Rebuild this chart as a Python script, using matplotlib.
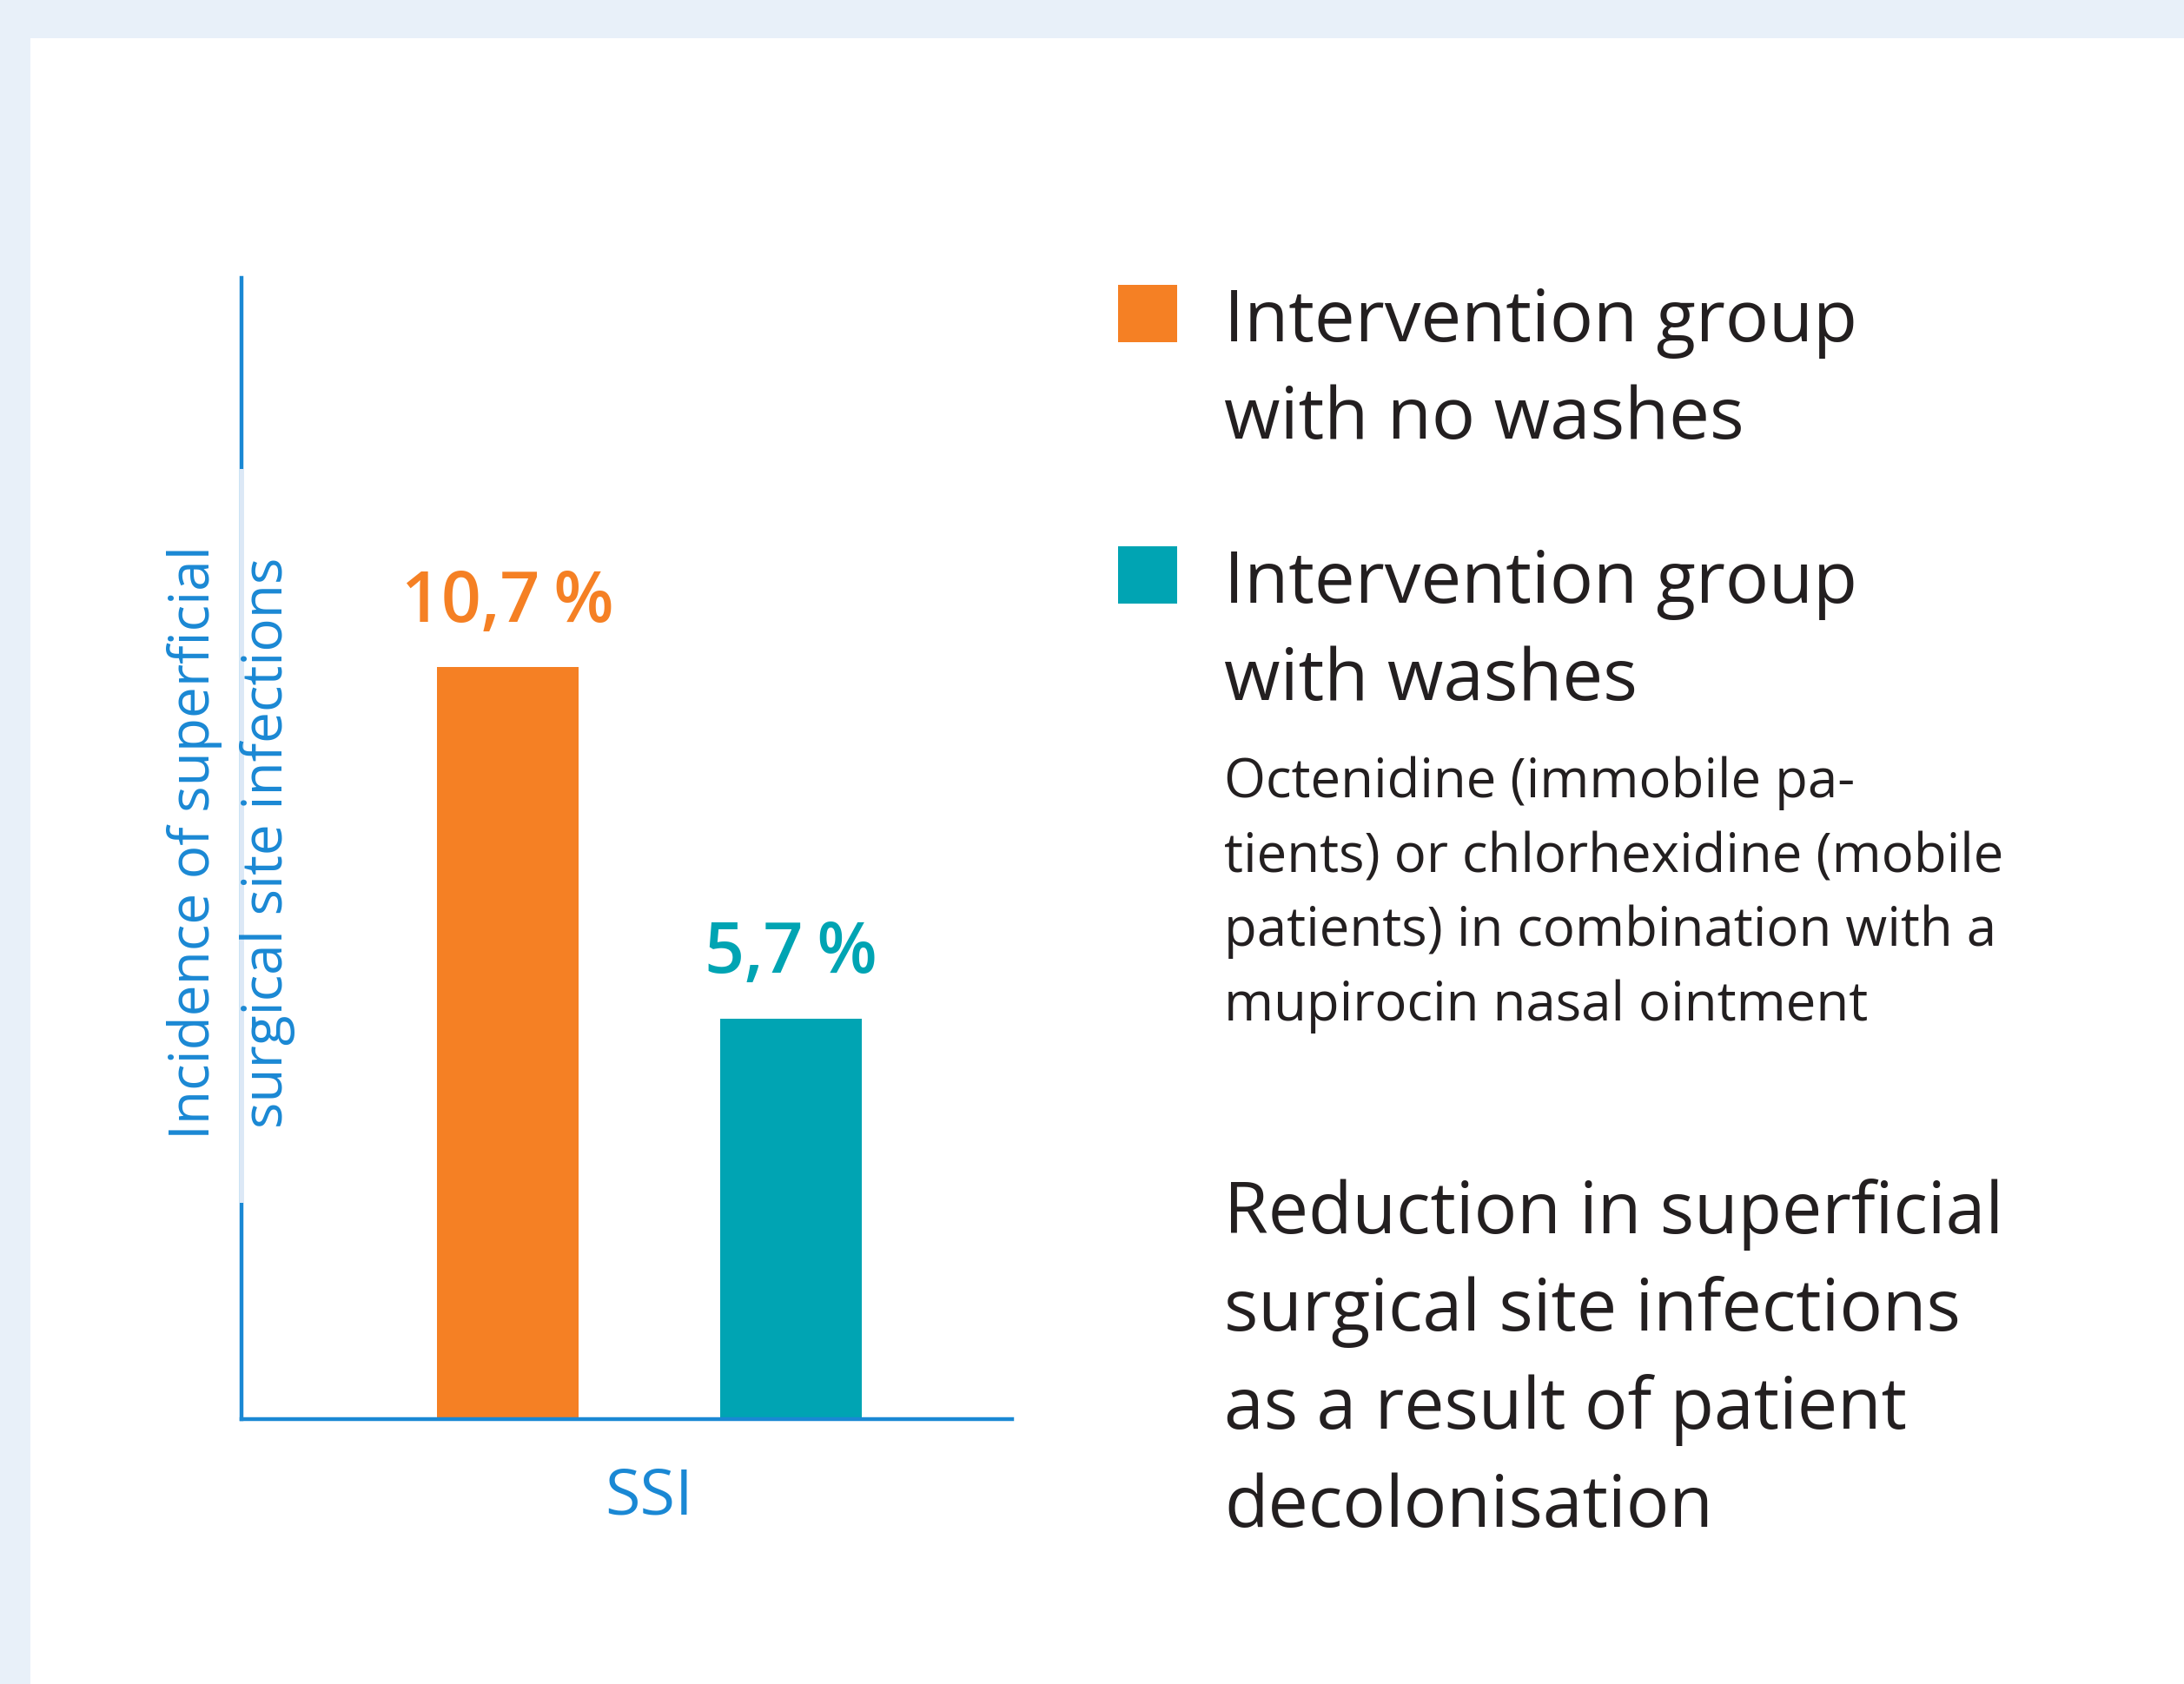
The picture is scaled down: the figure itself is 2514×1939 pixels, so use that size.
import matplotlib.pyplot as plt
from matplotlib.patches import Rectangle

plt.rcParams['font.family'] = ['Open Sans', 'DejaVu Sans']

# data
groups = ['Intervention group\nwith no washes', 'Intervention group\nwith washes']
values = [10.7, 5.7]
value_labels = ['10,7\u2009%', '5,7\u2009%']
category = 'SSI'
ylabel_lines = ['Incidence of superficial', 'surgical site infections']
note_lines = ['Octenidine (immobile pa-', 'tients) or chlorhexidine (mobile',
              'patients) in combination with a', 'mupirocin nasal ointment']
summary_lines = ['Reduction in superficial', 'surgical site infections',
                 'as a result of patient', 'decolonisation']

colors = ['#F58024', '#00A4B3']
blue = '#1A88D4'
pale = '#DCE8F6'
dark = '#231F20'

W, H = 2514, 1940
fig = plt.figure(figsize=(W / 100, H / 100), dpi=100, facecolor='#E8F0F9')

def fx(px):
    return px / W

def fy(py):
    return 1 - py / H

# white panel
fig.patches.append(Rectangle((fx(35), 0), 1, fy(45), transform=fig.transFigure,
                             facecolor='white', edgecolor='none', zorder=-5))

ax = fig.add_axes([fx(278), fy(1635), fx(1165) - fx(278), fy(321) - fy(1635)])
ax.set_zorder(2)
ax.set_facecolor('none')
x = [0, 1]
bars = ax.bar(x, values, width=0.5, color=colors, zorder=2)
ax.set_xlim(-0.939, 1.782)
ax.set_ylim(0, 16.24)

for s in ['top', 'right']:
    ax.spines[s].set_visible(False)
for s in ['left', 'bottom']:
    ax.spines[s].set_color(blue)
    ax.spines[s].set_linewidth(3.2)
# pale stretch of the y axis behind the label
ax.axvline(ax.get_xlim()[0], ymin=0.192, ymax=0.831, color=pale, lw=3.6, zorder=3,
           clip_on=False)

ax.set_yticks([])
ax.set_xticks([0.5])
ax.set_xticklabels([category], color=blue, fontsize=53)
ax.tick_params(axis='x', length=0, pad=38)

for b, lab, c in zip(bars, value_labels, colors):
    ax.annotate(lab, (b.get_x() + b.get_width() / 2, b.get_height()),
                xytext=(0, 24), textcoords='offset points', ha='center', va='bottom',
                color=c, fontsize=58, fontweight='semibold')

for xa, line in zip([-0.0609, 0.0338], ylabel_lines):
    ax.text(xa, 0.506, line, transform=ax.transAxes, rotation=90, ha='center',
            va='center', color=blue, fontsize=46, zorder=4)

# legend
legend_top = [329, 630]
legend_base = [[393, 505], [694, 806]]
for c, top, name, bases in zip(colors, legend_top, groups, legend_base):
    fig.patches.append(Rectangle((fx(1287), fy(top + 66)), fx(68), 66 / H,
                                 transform=fig.transFigure, facecolor=c, edgecolor='none'))
    for line, by in zip(name.split('\n'), bases):
        fig.text(fx(1409), fy(by), line, va='baseline', ha='left', color=dark, fontsize=60)

for line, by in zip(note_lines, [918, 1004, 1089, 1175]):
    fig.text(fx(1409), fy(by), line, va='baseline', ha='left', color=dark, fontsize=44.5)

for line, by in zip(summary_lines, [1420, 1532, 1645, 1758]):
    fig.text(fx(1409), fy(by), line, va='baseline', ha='left', color=dark, fontsize=59.3)

fig.savefig('out.png', dpi=100, facecolor=fig.get_facecolor())
